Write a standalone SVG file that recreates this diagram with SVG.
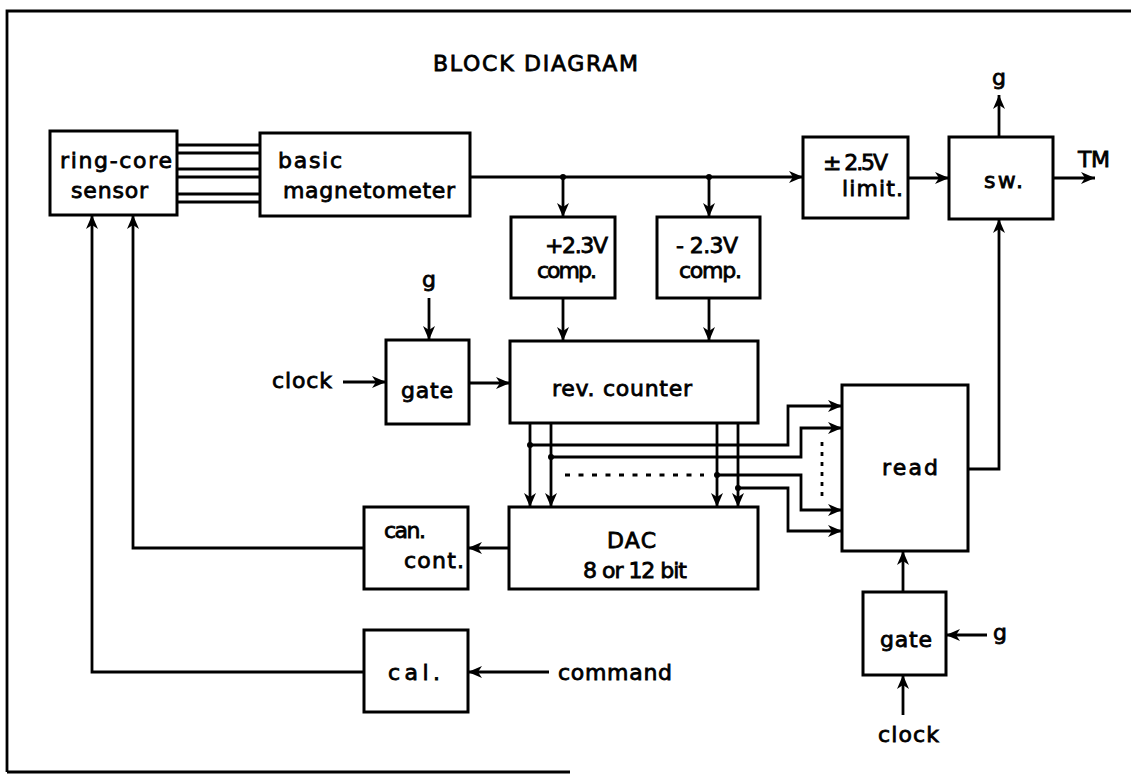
<svg xmlns="http://www.w3.org/2000/svg" width="1131" height="776" viewBox="0 0 1131 776">
<defs>
<style>
.box{fill:#fff;stroke:#000;stroke-width:3}
.w{fill:none;stroke:#000;stroke-width:2.8}
.a{marker-end:url(#arr)}
.dot{fill:#000}
text{font-family:"DejaVu Sans","Liberation Sans",sans-serif;font-size:22px;fill:#000;stroke:#000;stroke-width:0.8}
</style>
<marker id="arr" markerUnits="userSpaceOnUse" markerWidth="16" markerHeight="14" refX="14" refY="6" orient="auto">
<path d="M0,0 L14,6 L0,12 L4,6 z" fill="#000"/>
</marker>
</defs>
<rect width="1131" height="776" fill="#fff"/>
<g id="frame">
<path d="M7,772 V11 H1131" class="w" stroke-width="3"/>
<path d="M7,772 H570" class="w" stroke-width="2.5"/>
</g>
<text id="title" x="433" y="71" font-size="22" textLength="205" lengthAdjust="spacing">BLOCK  DIAGRAM</text>

<g id="connectors">
<path class="w" stroke-width="2.5" d="M177,145 H260 M177,153 H260 M177,169 H260 M177,177 H260 M177,194 H260 M177,202 H260"/>
<path class="w a" d="M470,177 H803"/>
<circle class="dot" cx="563" cy="177" r="3"/>
<circle class="dot" cx="709" cy="177" r="3"/>
<path class="w a" d="M563,177 V217"/>
<path class="w a" d="M709,177 V217"/>
<path class="w a" d="M563,298 V341"/>
<path class="w a" d="M709,298 V341"/>
<path class="w a" d="M908,178 H949"/>
<path class="w a" d="M1053,178 H1095"/>
<path class="w a" d="M999,137 V95"/>
<path class="w a" d="M968,469 H999 V219"/>
<path class="w a" d="M429,298 V340"/>
<path class="w a" d="M343,382 H386"/>
<path class="w a" d="M469,383 H510"/>
<path class="w a" d="M530,423 V507"/>
<path class="w a" d="M551,423 V507"/>
<path class="w a" d="M717,423 V507"/>
<path class="w a" d="M738,423 V507"/>
<path class="w a" d="M530,445 H788 V406 H842"/>
<path class="w a" d="M551,457 H801 V428 H842"/>
<path class="w a" d="M717,475 H801 V510 H842"/>
<path class="w a" d="M738,488 H788 V531 H842"/>
<circle class="dot" cx="530" cy="445" r="3"/>
<circle class="dot" cx="551" cy="457" r="3"/>
<circle class="dot" cx="717" cy="475" r="3"/>
<circle class="dot" cx="738" cy="488" r="3"/>
<path class="w" d="M565,475 H704" stroke-dasharray="5 8.5"/>
<path class="w" d="M822,442 V500" stroke-dasharray="4 6"/>
<path class="w a" d="M509,548 H468"/>
<path class="w a" d="M364,548 H133 V215"/>
<path class="w a" d="M364,672 H92 V215"/>
<path class="w a" d="M549,672 H468"/>
<path class="w a" d="M903,592 V551"/>
<path class="w a" d="M987,635 H946"/>
<path class="w a" d="M903,715 V675"/>
</g>

<g id="labels">
<text x="999" y="85" text-anchor="middle">g</text>
<text x="1078" y="167" textLength="32" lengthAdjust="spacing">TM</text>
<text x="429" y="287" text-anchor="middle">g</text>
<text x="272" y="388" textLength="60" lengthAdjust="spacing">clock</text>
<text x="558" y="680" textLength="114" lengthAdjust="spacing">command</text>
<text x="993" y="640">g</text>
<text x="878" y="742" textLength="61" lengthAdjust="spacing">clock</text>
</g>

<g id="sensor">
<rect class="box" x="50" y="131" width="127" height="84"/>
<text x="60" y="168" textLength="112" lengthAdjust="spacing">ring-core</text>
<text x="71" y="198" textLength="77" lengthAdjust="spacing">sensor</text>
</g>
<g id="magnetometer">
<rect class="box" x="260" y="133" width="210" height="83"/>
<text x="278" y="168" textLength="64" lengthAdjust="spacing">basic</text>
<text x="283" y="198" textLength="172" lengthAdjust="spacing">magnetometer</text>
</g>
<g id="limit">
<rect class="box" x="803" y="137" width="105" height="81"/>
<text x="823" y="170" textLength="65" lengthAdjust="spacing">± 2.5V</text>
<text x="842" y="196" textLength="61" lengthAdjust="spacing">limit.</text>
</g>
<g id="sw">
<rect class="box" x="949" y="137" width="104" height="82"/>
<text x="984" y="188" textLength="39" lengthAdjust="spacing">sw.</text>
</g>
<g id="comp-plus">
<rect class="box" x="511" y="217" width="104" height="81"/>
<text x="545" y="253" textLength="63" lengthAdjust="spacing">+2.3V</text>
<text x="537" y="278" textLength="60" lengthAdjust="spacing">comp.</text>
</g>
<g id="comp-minus">
<rect class="box" x="657" y="217" width="103" height="81"/>
<text x="676" y="253" textLength="62" lengthAdjust="spacing">- 2.3V</text>
<text x="679" y="278" textLength="63" lengthAdjust="spacing">comp.</text>
</g>
<g id="gate1">
<rect class="box" x="386" y="340" width="83" height="84"/>
<text x="401" y="398" textLength="52" lengthAdjust="spacing">gate</text>
</g>
<g id="rev-counter">
<rect class="box" x="510" y="341" width="248" height="82"/>
<text x="552" y="396" textLength="140" lengthAdjust="spacing">rev. counter</text>
</g>
<g id="read">
<rect class="box" x="842" y="385" width="126" height="166"/>
<text x="882" y="475" textLength="56" lengthAdjust="spacing">read</text>
</g>
<g id="dac">
<rect class="box" x="509" y="507" width="249" height="82"/>
<text x="607" y="548" textLength="49" lengthAdjust="spacing">DAC</text>
<text x="583" y="578" textLength="104" lengthAdjust="spacing">8 or 12 bit</text>
</g>
<g id="can-cont">
<rect class="box" x="364" y="507" width="104" height="82"/>
<text x="384" y="538" textLength="42" lengthAdjust="spacing">can.</text>
<text x="404" y="568" textLength="60" lengthAdjust="spacing">cont.</text>
</g>
<g id="cal">
<rect class="box" x="364" y="630" width="104" height="82"/>
<text x="388" y="680" textLength="52" lengthAdjust="spacing">cal.</text>
</g>
<g id="gate2">
<rect class="box" x="863" y="592" width="83" height="83"/>
<text x="880" y="647" textLength="52" lengthAdjust="spacing">gate</text>
</g>
</svg>
